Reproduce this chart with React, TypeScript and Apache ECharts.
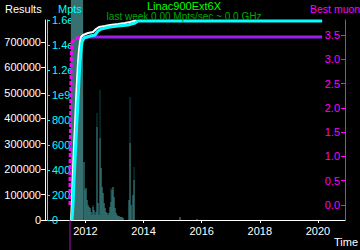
import React, { useEffect, useRef } from "react";
import * as echarts from "echarts";

// ---- data ----
const xTickYears = [2012, 2014, 2016, 2018, 2020];
const resultsTicks = [0, 100000, 200000, 300000, 400000, 500000, 600000, 700000];
const muonTicks = [0, 0.5, 1.0, 1.5, 2.0, 2.5, 3.0, 3.5];

// cumulative results (white)
const resultsSeries: [number, number][] = [
  [2011.505, 0], [2011.539, 78600], [2011.574, 196500], [2011.608, 294800],
  [2011.642, 373400], [2011.677, 471600], [2011.711, 550200], [2011.746, 620900],
  [2011.78, 667600], [2011.814, 699500], [2011.849, 719200], [2011.918, 727100],
  [2012.09, 734900], [2012.262, 738800], [2012.365, 750600], [2012.468, 758500],
  [2012.675, 762400], [2012.847, 766400], [2013.122, 770300], [2013.363, 774200],
  [2013.535, 778100], [2013.673, 782100], [2020.142, 782100],
];

// cumulative Mpts (cyan)
const mptsSeries: [number, number][] = [
  [2011.539, 0], [2011.574, 1.2e8], [2011.608, 3.2e8], [2011.642, 4.8e8],
  [2011.677, 6.4e8], [2011.711, 8.0e8], [2011.746, 9.6e8], [2011.78, 1.12e9],
  [2011.814, 1.264e9], [2011.849, 1.36e9], [2011.883, 1.424e9], [2011.952, 1.456e9],
  [2012.159, 1.472e9], [2012.331, 1.48e9], [2012.434, 1.512e9], [2012.537, 1.528e9],
  [2012.847, 1.544e9], [2013.122, 1.552e9], [2013.466, 1.56e9], [2013.707, 1.576e9],
  [2013.81, 1.592e9], [2020.142, 1.592e9],
];

// best muon results (magenta, dashed)
const muonSeries: [number, number][] = [
  [2011.47, 0], [2011.47, 0.6], [2011.48, 1.2], [2011.49, 1.8], [2011.5, 2.4],
  [2011.51, 2.9], [2011.52, 3.2], [2011.54, 3.35], [2011.6, 3.42], [2011.814, 3.45],
];

// best muon so far (purple)
const bestSeries: [number, number][] = [
  [2011.814, 3.46], [2020.142, 3.46],
];

// weekly activity histogram: [year, light value, dark (max) value]
const histYears = [
  2011.952, 2011.986, 2012.021, 2012.055, 2012.09, 2012.124, 2012.159, 2012.193,
  2012.227, 2012.262, 2012.296, 2012.331, 2012.365, 2012.399, 2012.434, 2012.468,
  2012.503, 2012.537, 2012.571, 2012.606, 2012.64, 2012.675, 2012.709, 2012.744,
  2012.778, 2012.812, 2012.847, 2012.881, 2012.916, 2012.95, 2012.984, 2013.019,
  2013.053, 2013.088, 2013.122, 2013.156, 2013.191, 2013.225, 2013.26, 2013.294,
  2013.501, 2013.535, 2013.57, 2013.638, 2013.673, 2015.256, 2015.841,
];
const histLight = [
  58, 30, 32, 20, 15, 13, 12, 8,
  5, 13, 10, 5, 8, 93, 17, 5,
  82, 52, 33, 27, 17, 12, 8, 7,
  5, 7, 13, 18, 30, 33, 23, 12,
  7, 5, 4, 4, 3, 3, 3, 2,
  20, 77, 15, 25, 40, 3, 1,
];
const histDark = [
  58, 30, 32, 20, 15, 13, 12, 8,
  5, 15, 10, 5, 8, 107, 17, 5,
  130, 52, 33, 27, 17, 12, 8, 7,
  5, 7, 13, 32, 30, 33, 23, 12,
  7, 5, 4, 4, 3, 3, 3, 2,
  20, 123, 15, 25, 53, 3, 1,
];

// active period band and start marker
const activeBand: [number, number][] = [[2011.5, 2011.92]];
const startMarker: number[][] = [[2011.47]];

const FONT = '"Liberation Sans", Arial, sans-serif';

function mptsLabel(v: number): string {
  if (v === 0) return "0";
  if (v >= 1e9) return `${Math.round(v / 1e8) / 10}e9`;
  return `${Math.round(v / 1e6)}e6`;
}

export default function App() {
  const ref = useRef<HTMLDivElement>(null);
  useEffect(() => {
    if (!ref.current) return;
    const chart = echarts.init(ref.current, null, { renderer: "svg" });
    const option: any = {
      animation: false,
      backgroundColor: "#000000",
      textStyle: { fontFamily: FONT, fontSize: 11 },
      grid: { left: 45, right: 15, top: 20, bottom: 30 },
      xAxis: {
        type: "value",
        min: 2010.61,
        max: 2020.93,
        splitLine: { show: false },
        axisLine: { lineStyle: { color: "#ffffff", width: 1 } },
        axisTick: { length: 3, lineStyle: { color: "#ffffff" }, customValues: xTickYears },
        axisLabel: { color: "#ffffff", fontSize: 11, margin: 5, customValues: xTickYears, formatter: (v: number) => String(Math.round(v)) },
      },
      yAxis: [
        {
          type: "value",
          position: "left",
          min: 0,
          max: 786000,
          splitLine: { show: false },
          axisLine: { show: true, lineStyle: { color: "#ffffff" } },
          axisTick: { show: true, length: 4, lineStyle: { color: "#ffffff" }, customValues: resultsTicks },
          axisLabel: { color: "#ffffff", fontSize: 11, margin: 4, customValues: resultsTicks, formatter: (v: number) => String(v) },
        },
        {
          type: "value",
          position: "left",
          offset: -2,
          min: 0,
          max: 1.6e9,
          interval: 2e8,
          splitLine: { show: false },
          axisLine: { show: true, lineStyle: { color: "#00ffff" } },
          axisTick: { show: true, inside: true, length: 3, lineStyle: { color: "#00ffff" } },
          axisLabel: { inside: true, color: "#00ffff", fontSize: 11, margin: 5, formatter: mptsLabel },
        },
        {
          type: "value",
          position: "right",
          min: -0.309,
          max: 3.809,
          splitLine: { show: false },
          axisLine: { show: true, lineStyle: { color: "#ff00ff" } },
          axisTick: { show: true, inside: true, length: 4, lineStyle: { color: "#ff00ff" }, customValues: muonTicks },
          axisLabel: { inside: true, color: "#ff00ff", fontSize: 11, margin: 5, customValues: muonTicks, formatter: (v: number) => v.toFixed(1) },
        },
        {
          type: "value",
          show: false,
          min: 0,
          max: 200,
        },
      ],
      graphic: [
        { type: "text", z: 100, x: 184, y: 6, style: { text: "Linac900Ext6X", fill: "#00ff00", font: `11px ${FONT}`, textAlign: "center", textVerticalAlign: "middle" } },
        { type: "text", z: 100, x: 184, y: 16, style: { text: "last week 0.00 Mpts/sec ~ 0.0 GHz", fill: "#00a800", font: `10px ${FONT}`, textAlign: "center", textVerticalAlign: "middle" } },
        { type: "text", z: 100, x: 5, y: 9, style: { text: "Results", fill: "#ffffff", font: `11px ${FONT}`, textAlign: "left", textVerticalAlign: "middle" } },
        { type: "text", z: 100, x: 58, y: 9, style: { text: "Mpts", fill: "#00ffff", font: `11px ${FONT}`, textAlign: "left", textVerticalAlign: "middle" } },
        { type: "text", z: 100, x: 310, y: 9, style: { text: "Best muon", fill: "#ff00ff", font: `10.5px ${FONT}`, textAlign: "left", textVerticalAlign: "middle" } },
        { type: "text", z: 100, x: 334, y: 242, style: { text: "Time", fill: "#ffffff", font: `11px ${FONT}`, textAlign: "left", textVerticalAlign: "middle" } },
      ],
      series: [
        {
          type: "custom",
          name: "active",
          yAxisIndex: 3,
          clip: false,
          z: 1,
          data: activeBand,
          encode: { x: [0, 1] },
          renderItem: (_p: any, api: any) => {
            const a = api.coord([api.value(0), 0]);
            const b = api.coord([api.value(1), 0]);
            return { type: "rect", shape: { x: a[0], y: 0, width: b[0] - a[0], height: a[1] }, style: { fill: "#386f6f" } };
          },
        },
        {
          type: "custom",
          name: "start",
          yAxisIndex: 3,
          clip: false,
          z: 1,
          data: startMarker,
          encode: { x: 0 },
          renderItem: (_p: any, api: any) => {
            const a = api.coord([api.value(0), 0]);
            return { type: "line", shape: { x1: a[0], y1: a[1], x2: a[0], y2: api.getHeight() }, style: { stroke: "#b010b0", lineWidth: 1 } };
          },
        },
        {
          type: "bar",
          name: "histMax",
          yAxisIndex: 3,
          barWidth: 1,
          barGap: "-100%",
          z: 2,
          itemStyle: { color: "#0e4444" },
          data: histYears.map((y, i) => [y, histDark[i]]),
        },
        {
          type: "bar",
          name: "hist",
          yAxisIndex: 3,
          barWidth: 1,
          barGap: "-100%",
          z: 2,
          itemStyle: { color: "#3d7d7d" },
          data: histYears.map((y, i) => [y, histLight[i]]),
        },
        {
          type: "line",
          name: "best",
          yAxisIndex: 2,
          showSymbol: false,
          z: 3,
          lineStyle: { color: "#9a20e8", width: 3 },
          data: bestSeries,
        },
        {
          type: "line",
          name: "Best muon",
          yAxisIndex: 2,
          showSymbol: false,
          z: 3,
          lineStyle: { color: "#ff00ff", width: 3, type: [4, 2] },
          data: muonSeries,
        },
        {
          type: "line",
          name: "Results",
          yAxisIndex: 0,
          showSymbol: false,
          z: 4,
          lineStyle: { color: "#ffffff", width: 2 },
          data: resultsSeries,
        },
        {
          type: "line",
          name: "Mpts",
          yAxisIndex: 1,
          showSymbol: false,
          z: 5,
          lineStyle: { color: "#00ffff", width: 3 },
          data: mptsSeries,
        },
      ],
    };
    chart.setOption(option);
    return () => chart.dispose();
  }, []);
  return (
    <div
      ref={ref}
      style={{ position: "absolute", left: 0, top: 0, width: 360, height: 250, background: "#000" }}
    />
  );
}
